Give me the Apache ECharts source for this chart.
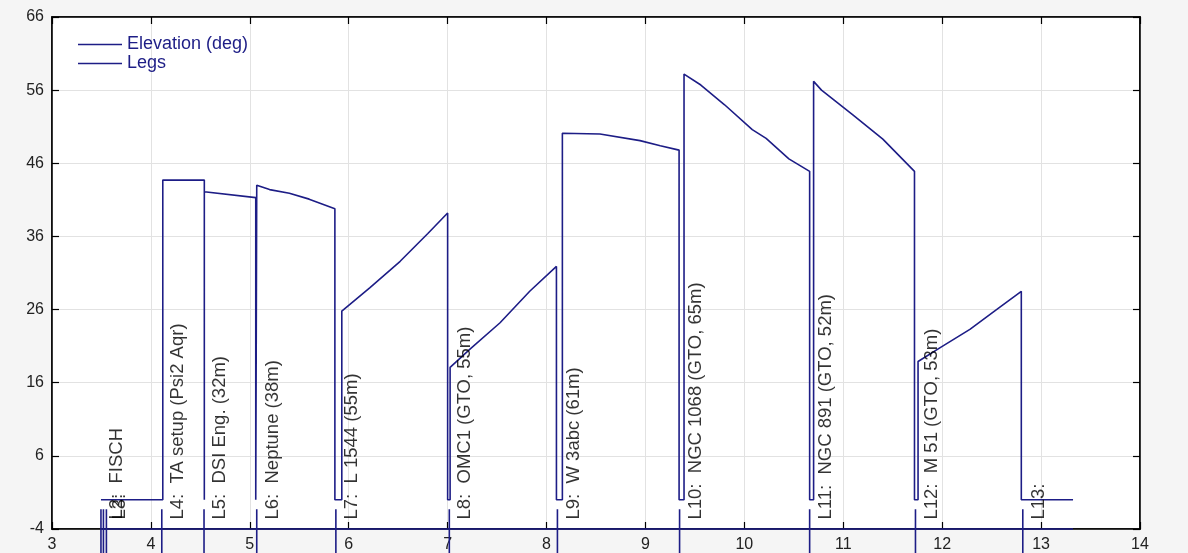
<!DOCTYPE html>
<html><head><meta charset="utf-8">
<script src="https://cdn.jsdelivr.net/npm/echarts@6/dist/echarts.min.js"></script>
<style>html,body{margin:0;padding:0;background:#f5f5f5}#c{width:1188px;height:553px}</style>
</head><body><div id="c"></div>
<script>
// ---- data ----
const elevX = [3.495, 4.12, 4.12, 4.54, 4.54, 4.54, 5.06, 5.06, 5.07, 5.07, 5.2, 5.4, 5.6, 5.86, 5.86, 5.93, 5.93, 6.215, 6.52, 6.8, 7.0, 7.0, 7.025, 7.025, 7.226, 7.53, 7.83, 8.1, 8.1, 8.16, 8.16, 8.54, 8.945, 9.15, 9.34, 9.34, 9.39, 9.39, 9.56, 9.8, 10.08, 10.22, 10.45, 10.66, 10.66, 10.70, 10.70, 10.78, 11.1, 11.4, 11.72, 11.72, 11.756, 11.756, 11.98, 12.28, 12.58, 12.8, 12.8, 13.323];
const elevY = [0, 0, 43.7, 43.7, 0, 42.1, 41.3, 0, 0, 43.0, 42.4, 41.9, 41.1, 39.8, 0, 0, 25.8, 29.0, 32.6, 36.4, 39.2, 0, 0, 18.1, 20.6, 24.2, 28.5, 31.9, 0, 0, 50.1, 50.0, 49.1, 48.4, 47.8, 0, 0, 58.2, 56.7, 54.0, 50.6, 49.4, 46.6, 44.9, 0, 0, 57.2, 56.0, 52.6, 49.3, 44.9, 0, 0, 18.9, 20.8, 23.3, 26.3, 28.5, 0, 0];
const legX = [3.495, 3.52, 3.55, 4.11, 4.537, 5.07, 5.87, 7.017, 8.11, 9.345, 10.66, 11.73, 12.815];
const legNames = ['L2:  FISCH', 'L3:', '', 'L4:  TA setup (Psi2 Aqr)', 'L5:  DSI Eng. (32m)', 'L6:  Neptune (38m)', 'L7:  L 1544 (55m)', 'L8:  OMC1 (GTO, 55m)', 'L9:  W 3abc (61m)', 'L10:  NGC 1068 (GTO, 65m)', 'L11:  NGC 891 (GTO, 52m)', 'L12:  M 51 (GTO, 53m)', 'L13:'];
const legBase = -4, legTop = -1.3, legBottom = -8, legEnd = 13.323;
const legLabelY = -2.7;
const seriesNames = ['Elevation (deg)', 'Legs'];
const xMin = 3, xMax = 14, xStep = 1;
const yMin = -4, yMax = 66, yStep = 10;

// ---- build ----
const NAVY = '#1d1d86';
const FONT = 'Liberation Sans, Arial, sans-serif';
const elevData = elevX.map((x, i) => [x, elevY[i]]);
const legsData = [[legX[0], legBase]];
legX.forEach(x => { legsData.push([x, legBase], [x, legTop], [x, legBottom], [x, legBase]); });
legsData.push([legEnd, legBase]);
const labelData = legX.map((x, i) => ({ value: [x, legLabelY], name: legNames[i] }));

const tickStyle = { show: true, inside: true, length: 7, lineStyle: { color: '#000', width: 1.2 } };
const lineAxis = { show: true, onZero: false, lineStyle: { color: '#000', width: 1.5 } };
const split = { show: true, lineStyle: { color: '#e2e2e2', width: 1 } };

const chart = echarts.init(document.getElementById('c'));
chart.setOption({
  animation: false,
  backgroundColor: '#f5f5f5',
  textStyle: { fontFamily: FONT },
  grid: { left: 52, right: 48, top: 17, bottom: 23, show: true, backgroundColor: '#fff', borderColor: '#000', borderWidth: 1.5 },
  legend: {
    data: seriesNames, orient: 'vertical', left: 73, top: 30, itemWidth: 44, itemHeight: 1.6, itemGap: 0,
    icon: 'rect',
    textStyle: { color: NAVY, fontSize: 18, lineHeight: 19, fontFamily: FONT }
  },
  xAxis: [
    { type: 'value', min: xMin, max: xMax, interval: xStep, position: 'bottom', axisLine: lineAxis, axisTick: tickStyle,
      axisLabel: { color: '#222', fontSize: 16, margin: 8, fontFamily: FONT }, splitLine: split },
    { type: 'value', min: xMin, max: xMax, interval: xStep, position: 'top', axisLine: lineAxis, axisTick: tickStyle,
      axisLabel: { show: false }, splitLine: { show: false } }
  ],
  yAxis: [
    { type: 'value', min: yMin, max: yMax, interval: yStep, position: 'left', axisLine: lineAxis, axisTick: tickStyle,
      axisLabel: { color: '#222', fontSize: 16, margin: 8, fontFamily: FONT }, splitLine: split },
    { type: 'value', min: yMin, max: yMax, interval: yStep, position: 'right', axisLine: lineAxis, axisTick: tickStyle,
      axisLabel: { show: false }, splitLine: { show: false } }
  ],
  series: [
    { name: seriesNames[0], type: 'line', data: elevData, symbol: 'none', showSymbol: false,
      lineStyle: { color: NAVY, width: 1.6 }, itemStyle: { color: NAVY }, z: 4 },
    { name: seriesNames[1], type: 'line', data: legsData, symbol: 'none', showSymbol: false, clip: false,
      lineStyle: { color: NAVY, width: 1.6 }, itemStyle: { color: NAVY }, z: 5 },
    { name: 'labels', type: 'scatter', data: labelData, symbolSize: 0, silent: true, z: 6,
      label: { show: true, formatter: p => p.name, rotate: 90, position: [16, 0], align: 'left', verticalAlign: 'middle',
        color: '#000', fontSize: 18.5, fontFamily: FONT } }
  ]
});
</script>
</body></html>
